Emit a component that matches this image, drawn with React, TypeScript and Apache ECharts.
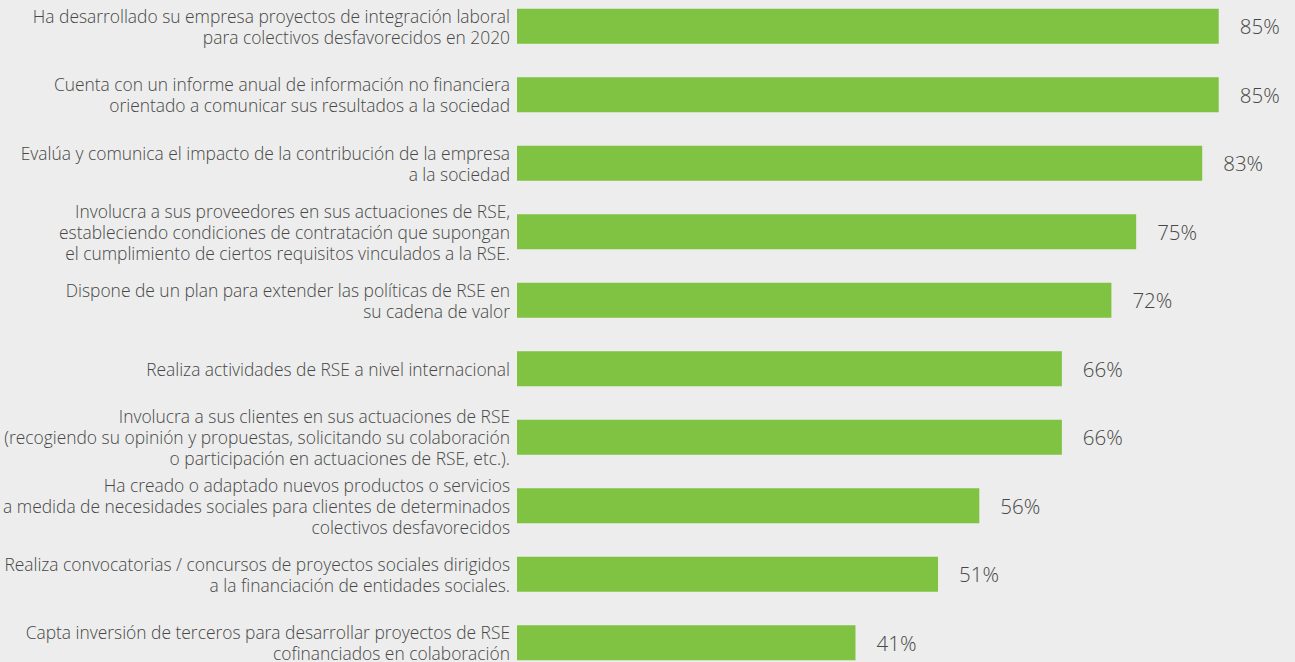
import React, { useEffect, useRef } from "react";
import * as echarts from "echarts";

const categories: string[] = [
  "Ha desarrollado su empresa proyectos de integración laboral\npara colectivos desfavorecidos en 2020",
  "Cuenta con un informe anual de información no financiera\norientado a comunicar sus resultados a la sociedad",
  "Evalúa y comunica el impacto de la contribución de la empresa\na la sociedad",
  "Involucra a sus proveedores en sus actuaciones de RSE,\nestableciendo condiciones de contratación que supongan\nel cumplimiento de ciertos requisitos vinculados a la RSE.",
  "Dispone de un plan para extender las políticas de RSE en\nsu cadena de valor",
  "Realiza actividades de RSE a nivel internacional",
  "Involucra a sus clientes en sus actuaciones de RSE\n(recogiendo su opinión y propuestas, solicitando su colaboración\no participación en actuaciones de RSE, etc.).",
  "Ha creado o adaptado nuevos productos o servicios\na medida de necesidades sociales para clientes de determinados\ncolectivos desfavorecidos",
  "Realiza convocatorias / concursos de proyectos sociales dirigidos\na la financiación de entidades sociales.",
  "Capta inversión de terceros para desarrollar proyectos de RSE\ncofinanciados en colaboración",
];

const values: number[] = [85, 85, 83, 75, 72, 66, 66, 56, 51, 41];

export default function App() {
  const ref = useRef<HTMLDivElement>(null);
  useEffect(() => {
    if (!ref.current) return;
    const chart = echarts.init(ref.current, undefined, { renderer: "svg" });
    chart.setOption({
      animation: false,
      backgroundColor: "#ecedec",
      textStyle: { fontFamily: "'Open Sans', sans-serif" },
      grid: { left: 517, right: 35, top: 0, bottom: 0, containLabel: false },
      xAxis: {
        type: "value",
        min: 0,
        max: 90,
        show: false,
      },
      yAxis: {
        type: "category",
        data: categories,
        inverse: true,
        axisLine: { show: false },
        axisTick: { show: false },
        axisLabel: {
          margin: 7,
          align: "right",
          fontSize: 17.4,
          fontWeight: 300,
          lineHeight: 21,
          color: "#474747",
          fontFamily: "'Open Sans', sans-serif",
        },
      },
      series: [
        {
          type: "bar",
          data: values,
          barWidth: 35,
          itemStyle: { color: "#80c241" },
          label: {
            show: true,
            position: "right",
            distance: 21,
            formatter: "{c}%",
            fontSize: 20.5,
            fontWeight: 300,
            color: "#474747",
            fontFamily: "'Open Sans', sans-serif",
          },
        },
      ],
    });
    return () => chart.dispose();
  }, []);
  return (
    <div
      ref={ref}
      style={{ position: "fixed", left: 0, top: -8, width: 1295, height: 685 }}
    />
  );
}
